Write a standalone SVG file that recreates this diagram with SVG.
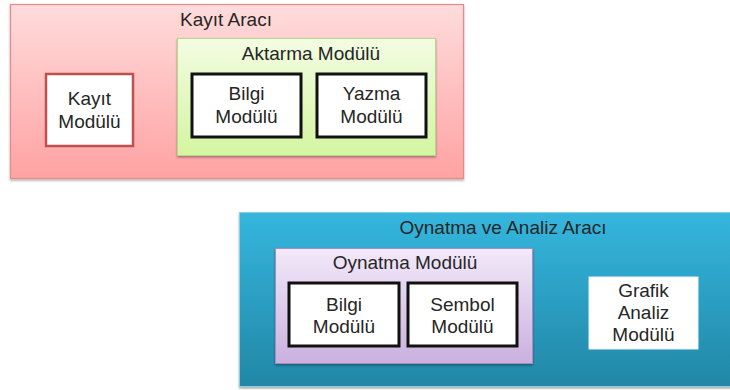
<svg xmlns="http://www.w3.org/2000/svg" width="730" height="390" viewBox="0 0 730 390">
  <defs>
    <linearGradient id="gPink" x1="0" y1="0" x2="0" y2="1">
      <stop offset="0" stop-color="#FFDCDC"/>
      <stop offset="1" stop-color="#FFA2A2"/>
    </linearGradient>
    <linearGradient id="gGreen" x1="0" y1="0" x2="0" y2="1">
      <stop offset="0" stop-color="#F3FCE3"/>
      <stop offset="1" stop-color="#D4F5A0"/>
    </linearGradient>
    <linearGradient id="gBlue" x1="0" y1="0" x2="0" y2="1">
      <stop offset="0" stop-color="#35B6DE"/>
      <stop offset="1" stop-color="#2287A6"/>
    </linearGradient>
    <linearGradient id="gPurple" x1="0" y1="0" x2="0" y2="1">
      <stop offset="0" stop-color="#F2E9F9"/>
      <stop offset="1" stop-color="#CBB0DF"/>
    </linearGradient>
    <filter id="shadow" x="-5%" y="-5%" width="110%" height="115%">
      <feDropShadow dx="0" dy="1.5" stdDeviation="1.2" flood-color="#000" flood-opacity="0.35"/>
    </filter>
  </defs>
  <style>
    text { font-family: "Liberation Sans", "Open Sans", sans-serif; font-size: 19px; fill: #262626; text-anchor: middle; }
    .box { stroke-width: 3; fill: #fff; stroke: #111; }
  </style>

  <!-- Recording tool -->
  <g id="kayit-araci">
    <rect x="10.5" y="4.5" width="453" height="174" fill="url(#gPink)" stroke="#E58A8A" stroke-width="1.2" filter="url(#shadow)"/>
    <text x="226" y="26">Kayıt Aracı</text>
  </g>
  <g id="kayit-modulu">
    <rect x="46" y="74" width="87" height="72" fill="#fff" stroke="#C0504D" stroke-width="2.5"/>
    <text x="89.5" y="105">Kayıt</text>
    <text x="89.5" y="128">Modülü</text>
  </g>
  <g id="aktarma-modulu">
    <rect x="177.5" y="38.5" width="258" height="117" fill="url(#gGreen)" stroke="#B5D98A" stroke-width="1" filter="url(#shadow)"/>
    <text x="311" y="60">Aktarma Modülü</text>
  </g>
  <g id="bilgi-modulu-1">
    <rect class="box" x="192" y="74" width="109" height="63"/>
    <text x="246.5" y="100">Bilgi</text>
    <text x="246.5" y="122.5">Modülü</text>
  </g>
  <g id="yazma-modulu">
    <rect class="box" x="317" y="74" width="109" height="63"/>
    <text x="371.5" y="100">Yazma</text>
    <text x="371.5" y="122.5">Modülü</text>
  </g>

  <!-- Playback and analysis tool -->
  <g id="oynatma-analiz-araci">
    <rect x="239.5" y="212.5" width="495" height="174" fill="url(#gBlue)" stroke="#8FCDE3" stroke-width="1" filter="url(#shadow)"/>
    <text x="503" y="234">Oynatma ve Analiz Aracı</text>
  </g>
  <g id="oynatma-modulu">
    <rect x="275.5" y="248.5" width="257" height="115" fill="url(#gPurple)" stroke="#A98BC4" stroke-width="1" filter="url(#shadow)"/>
    <text x="405" y="269">Oynatma Modülü</text>
  </g>
  <g id="bilgi-modulu-2">
    <rect class="box" x="289" y="283" width="110" height="63"/>
    <text x="344" y="311">Bilgi</text>
    <text x="344" y="333">Modülü</text>
  </g>
  <g id="sembol-modulu">
    <rect class="box" x="408" y="283" width="109" height="63"/>
    <text x="462.5" y="311">Sembol</text>
    <text x="462.5" y="333">Modülü</text>
  </g>
  <g id="grafik-analiz-modulu">
    <rect x="589" y="277" width="109" height="72" fill="#fff" stroke="#E8F4F8" stroke-width="1"/>
    <text x="643.5" y="297">Grafik</text>
    <text x="643.5" y="319">Analiz</text>
    <text x="643.5" y="341">Modülü</text>
  </g>

  <g id="connectors"/>
</svg>
